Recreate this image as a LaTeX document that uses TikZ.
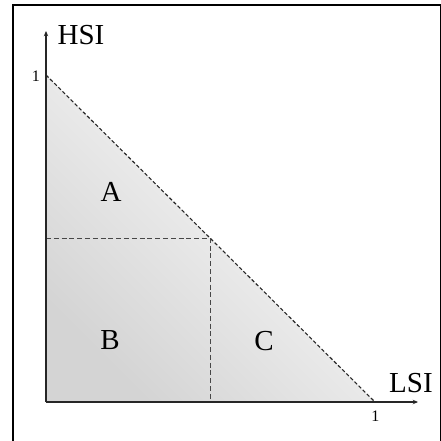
\documentclass[tikz,border=0pt]{standalone}
\usepackage{fontspec}
\setmainfont{Liberation Serif}
\usetikzlibrary{arrows.meta}
\begin{document}
\begin{tikzpicture}[x=0.5pt,y=-0.5pt,
  frameline/.style={line width=1pt,black},
  axisline/.style={line width=0.6pt,black!85,-{Stealth[length=2.6pt,width=2.2pt]}},
  diagdash/.style={line width=0.55pt,black!85,dash pattern=on 1.8pt off 1.1pt},
  griddash/.style={line width=0.6pt,black!72,dash pattern=on 2.5pt off 1.4pt},
  biglabel/.style={inner sep=0pt,font=\fontsize{14.5}{16}\selectfont},
  ticklabel/.style={inner sep=0pt,font=\fontsize{8}{9}\selectfont}]
\useasboundingbox (0,0) rectangle (441,441);
\draw[frameline] (13,5) rectangle (441.5,441.5);
\coordinate (O) at (46,402);
\coordinate (Y1) at (46,75);
\coordinate (X1) at (375,402);
\coordinate (P) at (210.5,238.5);
\coordinate (PY) at (46,238.5);
\coordinate (PX) at (210.5,402);
\coordinate (YT) at (46,31);
\coordinate (XT) at (418,402);
\shade[shading=axis,bottom color=black!17,top color=white,shading angle=-45] (O) -- (Y1) -- (X1) -- cycle;
\draw[diagdash] (Y1) -- (X1);
\draw[griddash] (PY) -- (P) -- (PX);
\draw[axisline] (O) -- (YT);
\draw[axisline] (O) -- (XT);
\node[biglabel] (hsi) at (81,35.5) {HSI};
\node[biglabel] (lsi) at (411,383) {LSI};
\node[ticklabel] (y1) at (36,76) {1};
\node[ticklabel] (x1) at (375.5,416) {1};
\node[biglabel] (a) at (111,192) {A};
\node[biglabel] (b) at (110,340) {B};
\node[biglabel] (c) at (264,341) {C};
\end{tikzpicture}
\end{document}
